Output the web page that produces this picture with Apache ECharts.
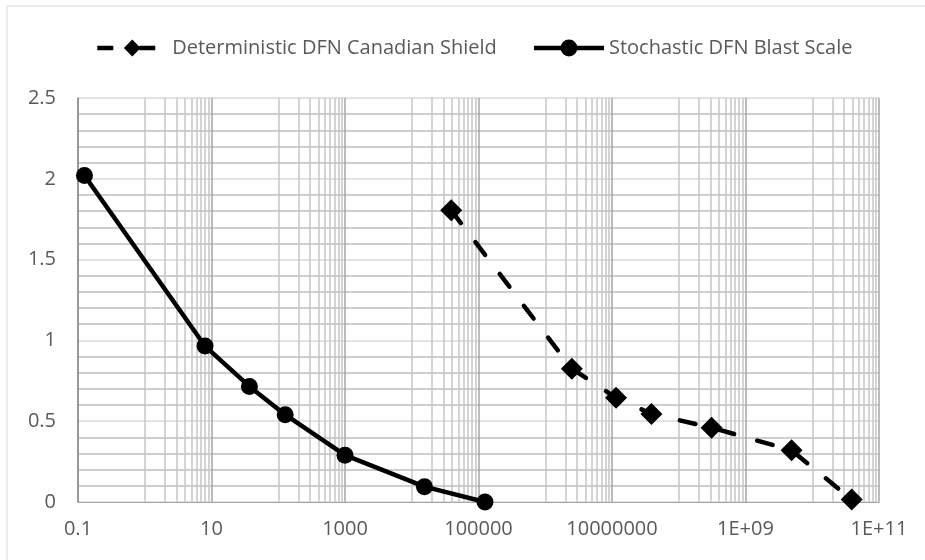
<!DOCTYPE html>
<html>
<head>
<meta charset="utf-8">
<script src="https://cdn.jsdelivr.net/npm/echarts@6/dist/echarts.min.js"></script>
<style>
  html, body { margin: 0; padding: 0; background: #ffffff; }
  #chart { width: 925px; height: 560px; }
</style>
</head>
<body>
<div id="chart"></div>
<script>
// Block size (x, log scale) against the plotted ratio (y)
const detName = 'Deterministic DFN Canadian Shield';
const detX = [39000, 2.5e6, 1.15e7, 3.9e7, 3.1e8, 4.9e9, 3.9e10];
const detY = [1.805, 0.825, 0.645, 0.545, 0.46, 0.32, 0.015];

const stoName = 'Stochastic DFN Blast Scale';
const stoX = [0.125, 8, 37, 127, 1000, 15500, 125000];
const stoY = [2.02, 0.965, 0.715, 0.54, 0.29, 0.095, 0];

const xTickLabels = ['0.1', '10', '1000', '100000', '10000000', '1E+09', '1E+11'];
const yTickLabels = ['0', '0.5', '1', '1.5', '2', '2.5'];

// Minor vertical grid: 1..9 times each even power of ten
const xMinorGrid = [];
for (let p = 0; p <= 10; p += 2) {
  for (let m = 1; m <= 9; m++) xMinorGrid.push(m * Math.pow(10, p));
}

const FONT = '"Open Sans", sans-serif';
const TEXT = '#595959';
const DASH = [16, 24];

const zip = (xs, ys) => xs.map((x, i) => [x, ys[i]]);

const chart = echarts.init(document.getElementById('chart'), null, { renderer: 'canvas' });

chart.setOption({
  animation: false,
  backgroundColor: '#ffffff',
  textStyle: { fontFamily: FONT },
  graphic: [{
    type: 'rect',
    shape: { x: 7, y: 6, width: 940, height: 580 },
    style: { fill: 'none', stroke: '#d9d9d9', lineWidth: 1 },
    silent: true,
    z: -10
  }],
  legend: {
    data: [
      { name: detName, lineStyle: { width: 4.5, type: [16, 26], cap: 'butt' } },
      { name: stoName, lineStyle: { width: 4.5, type: 'solid' } }
    ],
    left: 90,
    top: 33,
    itemWidth: 70,
    itemHeight: 21,
    itemGap: 35,
    textStyle: { fontFamily: FONT, fontSize: 20, color: TEXT }
  },
  grid: { left: 78, right: 46, top: 98, bottom: 58, containLabel: false },
  xAxis: {
    type: 'log',
    logBase: 10,
    min: 0.1,
    max: 1e11,
    interval: 2,
    axisLine: { show: true, lineStyle: { color: '#a6a6a6', width: 1 } },
    axisTick: { show: false },
    axisLabel: {
      color: TEXT, fontFamily: FONT, fontSize: 20, margin: 17,
      formatter: (v, i) => xTickLabels[i] !== undefined ? xTickLabels[i] : ''
    },
    splitLine: { show: true, lineStyle: { color: '#a6a6a6', width: 1.5 } }
  },
  yAxis: {
    type: 'value',
    min: 0,
    max: 2.5,
    interval: 0.5,
    axisLine: { show: true, lineStyle: { color: '#8c8c8c', width: 1.5 } },
    axisTick: { show: false },
    axisLabel: {
      color: TEXT, fontFamily: FONT, fontSize: 20, margin: 22,
      formatter: (v, i) => yTickLabels[i] !== undefined ? yTickLabels[i] : ''
    },
    splitLine: { show: true, lineStyle: { color: '#d9d9d9', width: 1.5 } },
    minorTick: { show: false, splitNumber: 5 },
    minorSplitLine: { show: true, lineStyle: { color: '#bfbfbf', width: 1.5 } }
  },
  series: [
    {
      type: 'line',
      data: [],
      silent: true,
      z: 1,
      markLine: {
        silent: true,
        symbol: ['none', 'none'],
        label: { show: false },
        emphasis: { disabled: true },
        lineStyle: { color: '#c6c6c6', width: 1.5, type: 'solid' },
        data: xMinorGrid.map(v => ({ xAxis: v }))
      }
    },
    {
      name: detName,
      type: 'line',
      z: 5,
      data: zip(detX, detY),
      symbol: 'diamond',
      symbolSize: 22,
      itemStyle: { color: '#000000' },
      lineStyle: { color: '#000000', width: 4.5, type: DASH, cap: 'round' }
    },
    {
      name: stoName,
      type: 'line',
      z: 5,
      data: zip(stoX, stoY),
      symbol: 'circle',
      symbolSize: 17,
      itemStyle: { color: '#000000' },
      lineStyle: { color: '#000000', width: 4.5, type: 'solid' }
    }
  ]
});
</script>
</body>
</html>
